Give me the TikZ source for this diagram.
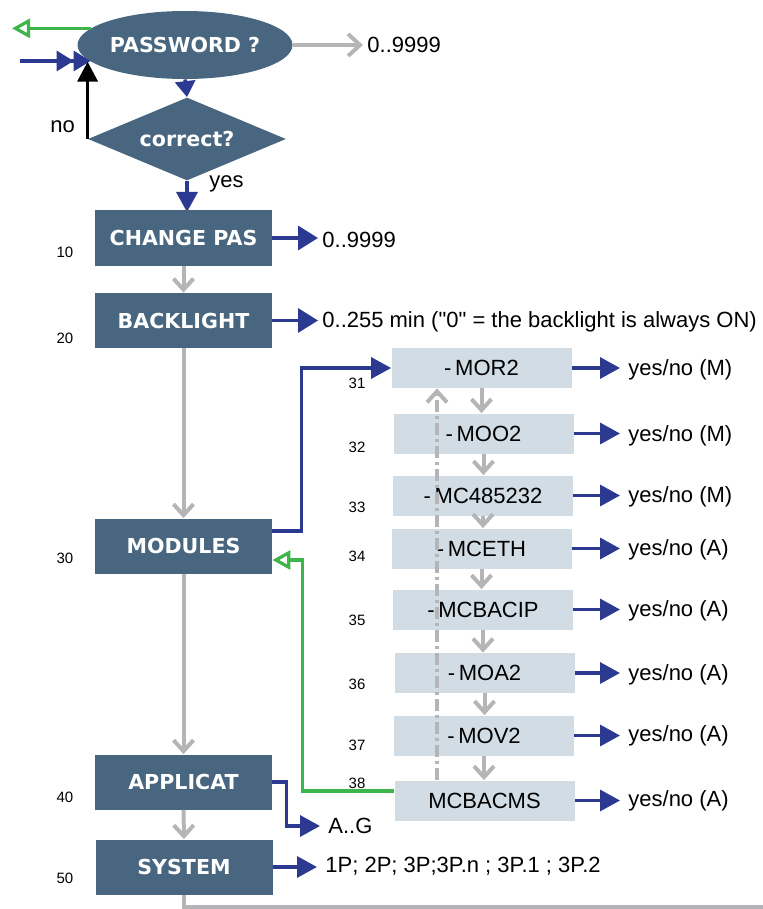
\documentclass[tikz,border=0pt]{standalone}
\usepackage{fontspec}
\setmainfont{Liberation Sans}[Ligatures=TeXOff]
\newfontfamily\boxfont{DejaVu Sans}
\usepackage{xcolor}
\usetikzlibrary{arrows.meta, positioning, shapes.geometric, calc}

\definecolor{boxdark}{HTML}{48667F}
\definecolor{boxlight}{HTML}{D1DCE5}
\definecolor{linkblue}{HTML}{2B3990}
\definecolor{linkgreen}{HTML}{3DB54A}
\definecolor{linkgray}{HTML}{B5B5B8}

\tikzset{
  darkbox/.style={rectangle, fill=boxdark, text=white, minimum width=88.5pt, minimum height=27.5pt, inner sep=0pt, font=\boxfont\bfseries\fontsize{10.3}{12}\selectfont},
  lightbox/.style={rectangle, fill=boxlight, minimum width=90pt, minimum height=20pt, inner sep=0pt, font=\fontsize{11}{13}\selectfont},
  outtext/.style={anchor=west, inner ysep=0pt, inner xsep=4pt, font=\fontsize{11}{13}\selectfont},
  stepnum/.style={inner sep=0pt, font=\fontsize{7.5}{9}\selectfont},
  bluearr/.style={draw=linkblue, line width=1.7pt, -{Triangle[length=10pt,width=10.5pt]}},
  grayarr/.style={draw=linkgray, line width=2pt, -{Straight Barb[length=5.5pt,width=10pt]}},
  greenarr/.style={draw=linkgreen, line width=1.6pt, -{Triangle[open,length=9pt,width=9.5pt,fill=white]}},
}

\begin{document}
\begin{tikzpicture}[x=0.5pt, y=-0.5pt]
  \useasboundingbox (0,0) rectangle (763,909);

  % password check
  \node[ellipse, fill=boxdark, text=white, minimum width=107.5pt, minimum height=34pt, inner sep=0pt,
        font=\boxfont\bfseries\fontsize{10.3}{12}\selectfont] (pass) at (185,45) {PASSWORD ?};
  \node[diamond, aspect=2.4, fill=boxdark, text=white, minimum width=99pt, minimum height=41.5pt, inner sep=0pt,
        font=\boxfont\bfseries\fontsize{10.3}{12}\selectfont] (correct) at (187,139) {correct?};
  \coordinate (inp) at (20,61);
  \coordinate (gout) at (12,28);
  \node[outtext, inner xsep=2pt] (pwrange) at (363,45) {0..9999};
  \node[outtext, inner xsep=0pt] (no) at (50,127) {no};
  \node[outtext, inner xsep=0pt] (yes) at (209,184) {yes};

  \draw[linkblue, line width=1.7pt, -{Triangle[length=8.5pt,width=10pt] Triangle[length=8.5pt,width=10pt]}] (inp) -- (inp -| pass.190);
  \draw[greenarr] (pass.170) -- (pass.170 -| gout);
  \draw[grayarr, -{Straight Barb[length=6pt,width=11pt]}] (pass.east) -- (pwrange.west);
  \draw[bluearr, -{Triangle[length=8pt,width=10pt]}] (pass.south) -- (correct.north);
  \draw[line width=1.8pt, -{Triangle[length=10pt,width=10pt]}] (correct.west) -- (correct.west |- pass.190);
  \draw[bluearr] (correct.south) -- (correct.south |- 0,212);

  % main menu
  \node[darkbox] (chg) at (183.5,238) {CHANGE PAS};
  \node[darkbox] (bkl) at (183.5,320.5) {BACKLIGHT};
  \node[darkbox] (mod) at (183.5,546) {MODULES};
  \node[darkbox] (app) at (183.5,782) {APPLICAT};
  \node[darkbox] (sys) at (184,867) {SYSTEM};

  \node[stepnum] (n10) at (65,252) {10};
  \node[stepnum] (n20) at (65,338) {20};
  \node[stepnum] (n30) at (65,558) {30};
  \node[stepnum] (n40) at (65,797) {40};
  \node[stepnum] (n50) at (65,878) {50};

  \node[outtext, inner xsep=2pt] (chgout) at (318,240) {0..9999};
  \node[outtext, inner xsep=2pt] (bklout) at (318,322) {0..255 min ("0" = the backlight is always ON)};
  \node[outtext] (appout) at (320,826) {A..G};
  \node[outtext] (sysout) at (317,866) {1P; 2P; 3P;3P.n ; 3P.1 ; 3P.2};
  \coordinate (send) at (763,907);

  \draw[grayarr] (chg) -- (bkl);
  \draw[grayarr] (bkl) -- (mod);
  \draw[grayarr] (mod) -- (app);
  \draw[grayarr] (app) -- (sys);
  \draw[linkgray, line width=1.6pt] (sys.south) |- (send);
  \draw[bluearr, -{Triangle[length=10pt,width=12pt]}] (chg.east) -- (chg.east -| chgout.west);
  \draw[bluearr, -{Triangle[length=10pt,width=12pt]}] (bkl.east) -- (bkl.east -| bklout.west);
  \draw[bluearr] (app.east) -- ++(14,0) |- (appout.west);
  \draw[bluearr] (sys.east) -- (sys.east -| sysout.west);

  % modules list
  \node[lightbox] (mor) at (481.5,368) {-\,MOR2};
  \node[lightbox] (moo) at (483.5,433.5) {-\,MOO2};
  \node[lightbox] (mc485) at (483,495.5) {-\,MC485232};
  \node[lightbox] (mceth) at (481.5,548.5) {-\,MCETH};
  \node[lightbox] (mcbip) at (483,609.5) {-\,MCBACIP};
  \node[lightbox] (moa) at (484.5,673) {-\,MOA2};
  \node[lightbox] (mov) at (484,735.5) {-\,MOV2};
  \node[lightbox] (mcms) at (484.5,800.5) {MCBACMS};

  \node[stepnum] (n31) at (357,383) {31};
  \node[stepnum] (n32) at (357,447) {32};
  \node[stepnum] (n33) at (357,507) {33};
  \node[stepnum] (n34) at (357,556) {34};
  \node[stepnum] (n35) at (357,620) {35};
  \node[stepnum] (n36) at (357,684) {36};
  \node[stepnum] (n37) at (357,745) {37};
  \node[stepnum] (n38) at (357,783) {38};

  \node[outtext] (ymor) at (620,370) {yes/no (M)};
  \node[outtext] (ymoo) at (620,436) {yes/no (M)};
  \node[outtext] (ymc485) at (620,497) {yes/no (M)};
  \node[outtext] (ymceth) at (620,550) {yes/no (A)};
  \node[outtext] (ymcbip) at (620,611) {yes/no (A)};
  \node[outtext] (ymoa) at (620,675) {yes/no (A)};
  \node[outtext] (ymov) at (620,736) {yes/no (A)};
  \node[outtext] (ymcms) at (620,801) {yes/no (A)};

  \foreach \m in {mor, moo, mc485, mceth, mcbip, moa, mov, mcms}
    \draw[bluearr] (\m.east) -- (\m.east -| y\m.west);

  \draw[grayarr] (mor.south) -- (mor.south |- moo.north);
  \draw[grayarr] (moo.south) -- (moo.south |- mc485.north);
  \draw[grayarr] (mc485.south) -- (mc485.south |- mceth.north);
  \draw[grayarr] (mceth.south) -- (mceth.south |- mcbip.north);
  \draw[grayarr] (mcbip.south) -- (mcbip.south |- moa.north);
  \draw[grayarr] (moa.south) -- (moa.south |- mov.north);
  \draw[grayarr] (mov.south) -- (mov.south |- mcms.north);

  \coordinate (back) at (437,0);
  \draw[grayarr, line width=2pt, dash pattern=on 6pt off 2pt on 1.5pt off 2pt] (mcms.north -| back) -- (mor.south -| back);

  % in and out of modules
  \draw[bluearr] ([yshift=7.5pt]mod.east) -- ++(29,0) |- (mor.west);
  \draw[greenarr] ([yshift=4.75pt]mcms.west) -- ++(-92,0) |- ([yshift=-7pt]mod.east);
\end{tikzpicture}
\end{document}
